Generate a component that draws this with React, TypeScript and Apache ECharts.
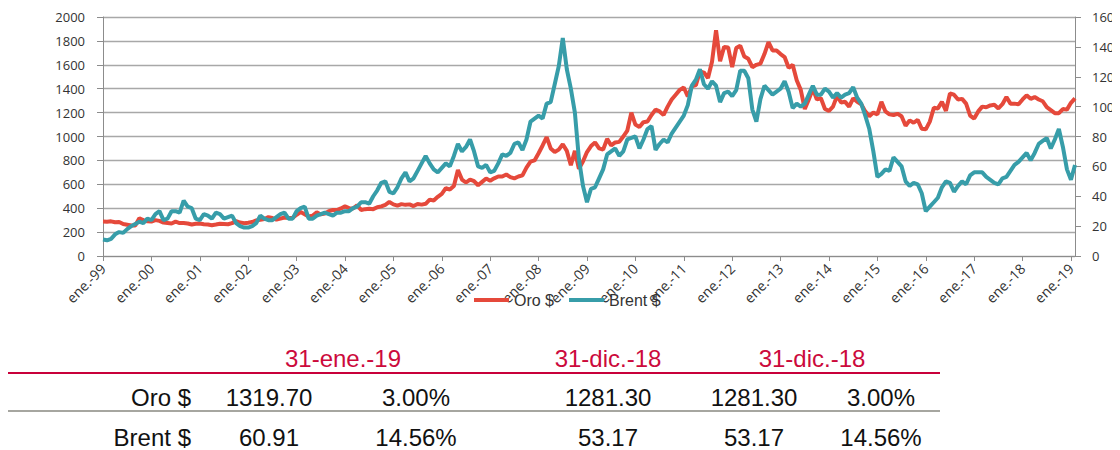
import React, { useEffect, useRef } from 'react';
import * as echarts from 'echarts';

// Month abbreviations (Spanish) used to build the monthly categories
const monthAbbr = ['ene.', 'feb.', 'mar.', 'abr.', 'may.', 'jun.', 'jul.', 'ago.', 'sept.', 'oct.', 'nov.', 'dic.'];
const firstYear = 1999;

const seriesNames = ['Oro $', 'Brent $'];

// Gold, USD/oz, month-start readings Jan-1999 .. Feb-2019 (last = 31-ene.-19)
const gold = [
  288, 287, 290, 282, 285, 268, 262, 255, 256, 315, 300, 290,
  288, 300, 294, 280, 276, 272, 288, 276, 276, 272, 264, 270,
  272, 266, 264, 258, 263, 270, 268, 266, 275, 292, 280, 275,
  278, 284, 298, 303, 310, 325, 318, 304, 313, 322, 317, 318,
  345, 368, 350, 330, 338, 365, 348, 355, 375, 385, 384, 398,
  415, 400, 398, 425, 385, 392, 395, 392, 408, 415, 428, 452,
  432, 422, 434, 428, 432, 418, 435, 430, 437, 472, 465, 495,
  520, 568, 556, 585, 720, 640, 615, 640, 626, 592, 620, 648,
  630, 650, 665, 665, 682, 660, 650, 665, 675, 740, 790, 800,
  860, 925, 995, 900, 870, 890, 935, 880, 760, 880, 730, 790,
  870, 920, 950, 900, 890, 980, 925, 950, 955, 1000, 1050, 1200,
  1100, 1080, 1120, 1125, 1180, 1225, 1210, 1180, 1250, 1310, 1350, 1390,
  1410, 1335, 1420, 1430, 1545, 1535, 1490, 1625, 1890, 1630, 1750, 1745,
  1580, 1740, 1760, 1670, 1650, 1580, 1600, 1610, 1690, 1790, 1720, 1720,
  1690, 1665, 1575, 1600, 1470, 1390, 1230, 1310, 1400, 1310, 1320, 1230,
  1215, 1250, 1340, 1285, 1290, 1250, 1320, 1290, 1270, 1210, 1170, 1200,
  1185, 1290, 1210, 1185, 1180, 1190, 1170, 1090, 1135, 1115, 1140, 1065,
  1060, 1125, 1240, 1235, 1290, 1215, 1360, 1350, 1310, 1315, 1275, 1175,
  1150, 1210, 1250, 1245, 1260, 1265, 1235, 1270, 1330, 1275, 1275, 1270,
  1310, 1345, 1315, 1330, 1310, 1295, 1245, 1220, 1195, 1195, 1230, 1225,
  1282, 1319.7,
];

// Brent, USD/bbl, same months
const brent = [
  11, 10.5, 11.5, 14.5, 16, 15.5, 18, 20, 21.5, 23, 22, 25,
  24, 28, 30, 24, 25, 30, 30, 29, 37, 33, 32, 25,
  24, 28, 27, 25, 29, 28, 25, 26, 27, 22, 20, 19,
  19, 20, 22, 27, 25, 24, 24, 26, 28, 29, 25, 25,
  30, 32, 33, 25, 25, 27, 28, 29, 28, 27, 29, 29,
  30, 30, 32, 33, 36, 36, 35, 40, 44, 49, 50, 43,
  42, 46, 52, 56, 50, 52, 57, 62, 67, 62, 58, 56,
  59, 62, 60, 67, 75, 70, 73, 78, 70, 60, 59, 61,
  56, 57, 62, 68, 67, 69, 75, 76, 71, 78, 90, 92,
  94, 92, 102, 103, 115, 127, 146, 125, 112, 96, 65, 47,
  36, 45, 46, 52, 58, 68, 70, 72, 67, 70, 78, 79,
  80, 72, 78, 85, 87, 71, 75, 78, 76, 82, 86, 90,
  94, 101, 114, 118, 125, 115, 112, 117, 114, 103, 109, 110,
  107, 111, 124, 124, 119, 98, 90, 105, 114, 111, 108, 110,
  112, 117, 110, 99, 102, 100, 102, 108, 114, 108, 108, 112,
  110, 106, 109, 106, 108, 109, 113, 106, 102, 94, 85, 70,
  53, 55, 58, 57, 66, 63, 60, 50, 47, 49, 48, 42,
  30, 33, 36, 39, 46, 50, 49, 43, 47, 50, 48, 54,
  56, 56, 56, 53, 51, 49, 48, 52, 53, 57, 61, 63,
  66, 69, 64, 69, 75, 77, 79, 72, 78, 85, 73, 58,
  51, 60.91,
];

// Table below the chart
const tableDates = ['31-ene.-19', '31-dic.-18', '31-dic.-18'];
const tableRowNames = ['Oro $', 'Brent $'];
const tableValues = [
  ['1319.70', '3.00%', '1281.30', '1281.30', '3.00%'],
  ['60.91', '14.56%', '53.17', '53.17', '14.56%'],
];

const categories = gold.map((_, i) => {
  const yy = String((firstYear + Math.floor(i / 12)) % 100).padStart(2, '0');
  return `${monthAbbr[i % 12]}-${yy}`;
});

const GOLD_COLOR = '#E5493B';
const BRENT_COLOR = '#379DA9';
const AXIS_COLOR = '#8c8c8c';
const LABEL_COLOR = '#333333';
const HEADER_COLOR = '#CC0A3C';

export default function App() {
  const ref = useRef<HTMLDivElement>(null);

  useEffect(() => {
    if (!ref.current) return;
    const chart = echarts.init(ref.current, undefined, { renderer: 'svg' });

    const headerX = [335, 600, 804];
    const valueX = [261, 408, 600, 746, 873];
    const rowY = [389, 429];
    const graphic: any[] = [];
    tableDates.forEach((d, i) => {
      graphic.push({
        type: 'text', x: headerX[i], y: 350,
        style: { text: d, fill: HEADER_COLOR, fontSize: 24, fontFamily: 'Liberation Sans', textAlign: 'center', textVerticalAlign: 'middle' },
      });
    });
    graphic.push({ type: 'line', shape: { x1: 0, y1: 365, x2: 932, y2: 365 }, style: { stroke: '#C8003A', lineWidth: 2 } });
    graphic.push({ type: 'line', shape: { x1: 0, y1: 403, x2: 932, y2: 403 }, style: { stroke: '#A6A6A0', lineWidth: 2 } });
    tableRowNames.forEach((name, r) => {
      graphic.push({
        type: 'text', x: 183, y: rowY[r],
        style: { text: name, fill: '#111', fontSize: 24, fontFamily: 'Liberation Sans', textAlign: 'right', textVerticalAlign: 'middle' },
      });
      tableValues[r].forEach((v, c) => {
        graphic.push({
          type: 'text', x: valueX[c], y: rowY[r],
          style: { text: v, fill: '#111', fontSize: 24, fontFamily: 'Liberation Sans', textAlign: 'center', textVerticalAlign: 'middle' },
        });
      });
    });

    const axisLabelStyle = { fontFamily: 'Open Sans', fontSize: 13, color: LABEL_COLOR };
    const plain = (v: number) => String(v);

    chart.setOption({
      animation: false,
      grid: { left: 95, top: 9, width: 972, height: 239, containLabel: false, outerBoundsMode: 'none' },
      legend: {
        data: seriesNames,
        left: 461,
        top: 279,
        icon: 'rect',
        itemWidth: 35,
        itemHeight: 4,
        itemGap: 15,
        textStyle: { fontFamily: 'Liberation Sans', fontSize: 16, color: LABEL_COLOR },
      },
      xAxis: {
        type: 'category',
        data: categories,
        boundaryGap: false,
        axisLine: { lineStyle: { color: AXIS_COLOR } },
        axisTick: { interval: 11, length: 5, lineStyle: { color: AXIS_COLOR } },
        axisLabel: { ...axisLabelStyle, fontSize: 14, interval: 11, rotate: 45, margin: 10 },
        splitLine: { show: false },
      },
      yAxis: [
        {
          type: 'value', min: 0, max: 2000, interval: 200,
          axisLine: { show: true, lineStyle: { color: AXIS_COLOR } },
          axisTick: { show: true, length: 6, lineStyle: { color: AXIS_COLOR } },
          axisLabel: { ...axisLabelStyle, margin: 18, formatter: plain },
          splitLine: { show: true, lineStyle: { color: '#a8a8a8', width: 1.3 } },
        },
        {
          type: 'value', min: 0, max: 160, interval: 20, position: 'right',
          axisLine: { show: true, lineStyle: { color: AXIS_COLOR } },
          axisTick: { show: true, length: 6, lineStyle: { color: AXIS_COLOR } },
          axisLabel: { ...axisLabelStyle, margin: 17, formatter: plain },
          splitLine: { show: false },
        },
      ],
      series: [
        {
          name: seriesNames[0], type: 'line', data: gold, yAxisIndex: 0,
          symbol: 'none', lineStyle: { width: 4, color: GOLD_COLOR }, itemStyle: { color: GOLD_COLOR },
        },
        {
          name: seriesNames[1], type: 'line', data: brent, yAxisIndex: 1,
          symbol: 'none', lineStyle: { width: 4, color: BRENT_COLOR }, itemStyle: { color: BRENT_COLOR },
        },
      ],
      graphic,
    });

    return () => chart.dispose();
  }, []);

  return <div ref={ref} style={{ width: 1110, height: 442 }} />;
}
